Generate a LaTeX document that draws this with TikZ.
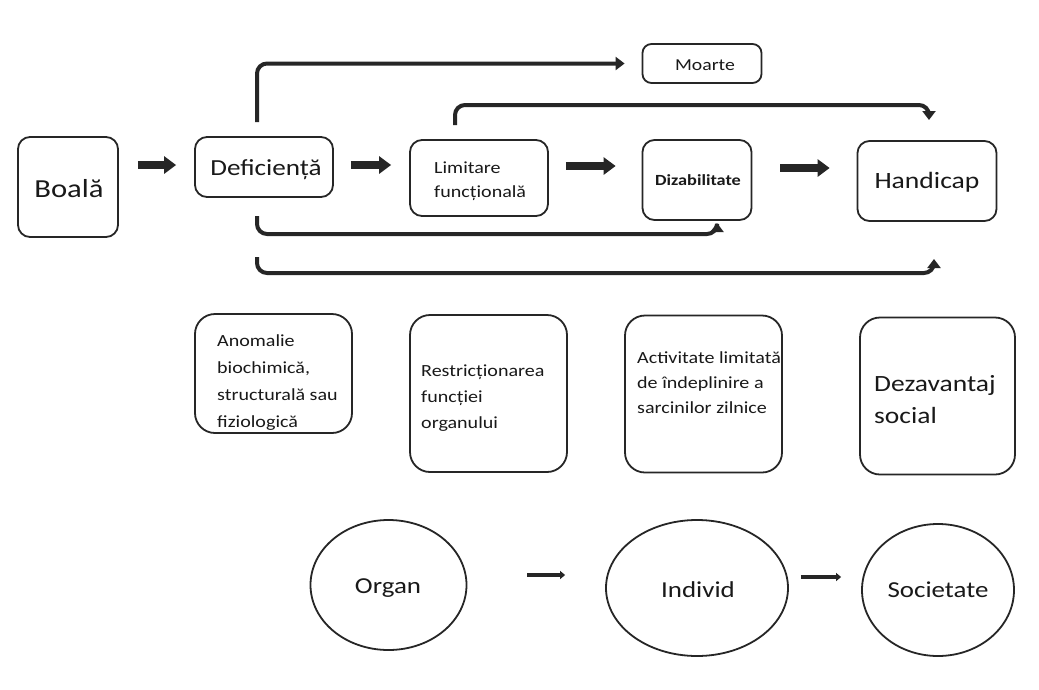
\documentclass[tikz,border=0pt]{standalone}
\usepackage{fontspec}
\setmainfont[FakeStretch=1.18]{Carlito}
\usetikzlibrary{arrows.meta,shapes.geometric}

\begin{document}
\begin{tikzpicture}[x=1pt,y=-1pt,
  box/.style={draw=black!85, line width=1.8pt, rounded corners=12pt, inner sep=0pt},
  bigbox/.style={box, rounded corners=20pt},
  txt/.style={inner sep=0pt, anchor=base, text=black!90},
  lbl/.style={inner sep=0pt, align=left, anchor=north west, text=black!90},
  blockarrow/.style={line width=8pt, black!85, -{Triangle[length=12pt,width=17pt]}},
  link/.style={line width=4pt, black!85, rounded corners=10pt, -{Triangle[length=9pt,width=13pt]}},
  thinarrow/.style={line width=3.5pt, black!85, -{Triangle[length=5pt,width=8pt]}},
  oval/.style={draw=black!85, ellipse, line width=1.8pt, inner sep=0pt}
]
\useasboundingbox[fill=white] (0,0) rectangle (1039,689);

% top row: the chain of states
\node[box, minimum width=100pt, minimum height=100pt] (boala) at (68,187) {};
\node[txt, font=\fontsize{26}{30}\selectfont] (boalatxt) at (69,197) {Boală};
\node[box, minimum width=138pt, minimum height=60pt] (defic) at (264,167) {};
\node[txt, font=\fontsize{23}{27}\selectfont] (defictxt) at (266,175) {Deficiență};
\node[box, minimum width=138pt, minimum height=76pt] (limit) at (479,178) {};
\node[lbl, font=\fontsize{17}{24}\selectfont] (limittxt) at (434,162) {Limitare\\funcțională};
\node[box, minimum width=109pt, minimum height=80pt] (dizab) at (697,180) {};
\node[txt, font=\fontsize{15.5}{19}\selectfont\bfseries] (dizabtxt) at (698,185) {Dizabilitate};
\node[box, minimum width=139pt, minimum height=80pt] (handi) at (927,181) {};
\node[txt, font=\fontsize{23.4}{27}\selectfont] (handitxt) at (927,188) {Handicap};
\node[box, minimum width=119pt, minimum height=39pt, rounded corners=9pt] (moarte) at (702,63.5) {};
\node[txt, font=\fontsize{16.7}{20}\selectfont] (moartetxt) at (705,70) {Moarte};

% block arrows between the states
\draw[blockarrow] ([xshift=19pt]boala.east |- 0,165) -- ([xshift=-18pt]defic.west |- 0,165);
\draw[blockarrow] ([xshift=17pt]defic.east |- 0,165) -- ([xshift=-18pt]limit.west |- 0,165);
\draw[blockarrow] ([xshift=17pt]limit.east |- 0,166) -- ([xshift=-26pt]dizab.west |- 0,166);
\draw[blockarrow] ([xshift=28pt]dizab.east |- 0,168) -- ([xshift=-27pt]handi.west |- 0,168);

% bypass connectors
\coordinate (dtop) at (257,122);
\coordinate (ltop) at (455,125);
\coordinate (dbot1) at (257,216);
\coordinate (dbot2) at (257,257);
\coordinate (htop) at (929,120);
\coordinate (zbot) at (717,223);
\coordinate (hbot) at (934,259);
\draw[link] (dtop) |- ([xshift=-17pt]moarte.west);
\draw[link] (ltop) -- (455,105) -| (htop);
\draw[link] (dbot1) -- (257,234) -| (zbot);
\draw[link] (dbot2) -- (257,273) -| (hbot);

% middle row: descriptions
\node[bigbox, minimum width=157pt, minimum height=119pt] (anom) at (273.5,373.5) {};
\node[lbl, font=\fontsize{17}{27}\selectfont] (anomtxt) at (217,334) {Anomalie\\biochimică,\\structurală sau\\fiziologică};
\node[bigbox, minimum width=157pt, minimum height=157pt] (restr) at (488.5,393.5) {};
\node[lbl, font=\fontsize{17}{26}\selectfont] (restrtxt) at (421,365) {Restricționarea\\funcției\\organului};
\node[bigbox, minimum width=157pt, minimum height=157pt] (activ) at (703.5,394) {};
\node[lbl, font=\fontsize{17}{25}\selectfont] (activtxt) at (637,351) {Activitate limitată\\de îndeplinire a\\sarcinilor zilnice};
\node[bigbox, minimum width=155pt, minimum height=157pt] (dezav) at (937.5,396) {};
\node[lbl, font=\fontsize{23.3}{32}\selectfont] (dezavtxt) at (874,375) {Dezavantaj\\social};

% bottom row: levels
\node[oval, minimum width=156pt, minimum height=130pt] (organ) at (388.5,585) {};
\node[txt, font=\fontsize{22.8}{27}\selectfont] (organtxt) at (388,593) {Organ};
\node[oval, minimum width=182pt, minimum height=136pt] (indiv) at (697,588) {};
\node[txt, font=\fontsize{22.8}{27}\selectfont] (indivtxt) at (698,597) {Individ};
\node[oval, minimum width=152pt, minimum height=132pt] (soc) at (938,590) {};
\node[txt, font=\fontsize{22.8}{27}\selectfont] (soctxt) at (938,597) {Societate};
\draw[thinarrow] ([xshift=60pt]organ.east |- 0,575) -- ([xshift=-40pt]indiv.west |- 0,575);
\draw[thinarrow] ([xshift=12pt]indiv.east |- 0,577) -- ([xshift=-20pt]soc.west |- 0,577);
\end{tikzpicture}
\end{document}
